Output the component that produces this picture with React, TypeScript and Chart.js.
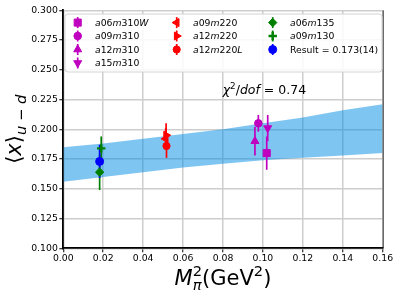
import React, { useEffect, useRef } from 'react';
import { Chart, registerables } from 'chart.js';
import { drawPoint } from 'chart.js/helpers';

Chart.register(...registerables);

// ---- data ----
const xTicksMin = 0;
const xTicksMax = 0.16;
const xTickStep = 0.02;
const yTicksMin = 0.1;
const yTicksMax = 0.3;
const yTickStep = 0.025;

const seriesNames = ['a06m310W', 'a09m310', 'a12m310', 'a15m310', 'a09m220', 'a12m220', 'a12m220L', 'a06m135', 'a09m130', 'Result = 0.173(14)'];
const seriesX = [0.1019, 0.0977, 0.096, 0.1024, 0.0513, 0.0515, 0.0517, 0.0182, 0.019, 0.0182];
const seriesY = [0.18, 0.205, 0.19, 0.201, 0.192, 0.195, 0.186, 0.164, 0.184, 0.173];
const seriesErr = [0.014, 0.007, 0.012, 0.011, 0.009, 0.01, 0.01, 0.015, 0.01, 0.014];

const bandX = [0, 0.02, 0.04, 0.06, 0.08, 0.1, 0.12, 0.14, 0.16];
const bandLo = [0.156, 0.160, 0.164, 0.168, 0.171, 0.174, 0.176, 0.178, 0.180];
const bandHi = [0.185, 0.188, 0.192, 0.196, 0.200, 0.205, 0.210, 0.216, 0.221];

const chiText = '0.74';

// ---- styles ----
const MAG = '#bf00bf';
const RED = '#ff0000';
const GRN = '#008000';
const BLU = '#0000ff';
const seriesColor = [MAG, MAG, MAG, MAG, RED, RED, RED, GRN, GRN, BLU];
const seriesMarker = ['rect', 'circle', 'triangle', 'triangle', 'triangle', 'triangle', 'circle', 'rectRot', 'cross', 'circle'];
const seriesRotation = [0, 0, 0, 180, 270, 90, 0, 0, 0, 0];
const seriesRadius = [5, 3.8, 4.6, 4.6, 4.6, 4.6, 3.6, 4.2, 4.2, 4.0];
const legendCol = [0, 0, 0, 0, 1, 1, 1, 2, 2, 2];
const legendRow = [0, 1, 2, 3, 0, 1, 2, 0, 1, 2];

const FONT = '"DejaVu Sans", sans-serif';

type Part = { t: string; it?: boolean; size: number; dy?: number; noAdv?: boolean };

function partsWidth(ctx: CanvasRenderingContext2D, parts: Part[]) {
  let w = 0;
  for (const p of parts) {
    ctx.font = `${p.it ? 'italic ' : ''}${p.size}px ${FONT}`;
    const m = ctx.measureText(p.t).width;
    if (!p.noAdv) w += m;
  }
  return w;
}

function drawRich(ctx: CanvasRenderingContext2D, parts: Part[], x: number, y: number, align: 'left' | 'center') {
  let cx = align === 'center' ? x - partsWidth(ctx, parts) / 2 : x;
  ctx.textAlign = 'left';
  ctx.textBaseline = 'alphabetic';
  for (const p of parts) {
    ctx.font = `${p.it ? 'italic ' : ''}${p.size}px ${FONT}`;
    ctx.fillText(p.t, cx, y + (p.dy || 0));
    if (!p.noAdv) cx += ctx.measureText(p.t).width;
  }
}

function mathParts(name: string, size: number): Part[] {
  if (name.startsWith('Result')) return [{ t: name, size }];
  const parts: Part[] = [];
  const re = /([A-Za-z]+|[0-9]+)/g;
  let m: RegExpExecArray | null;
  while ((m = re.exec(name))) {
    parts.push({ t: m[0], it: /[A-Za-z]/.test(m[0]), size });
  }
  return parts;
}

const overlayPlugin = {
  id: 'overlay',
  afterDatasetDraw(chart: any, args: any) {
    if (args.index !== seriesNames.length) return;
    const ctx: CanvasRenderingContext2D = chart.ctx;
    const xs = chart.scales.x;
    const ys = chart.scales.y;
    ctx.save();
    for (let i = 0; i < seriesNames.length; i++) {
      const px = xs.getPixelForValue(seriesX[i]);
      ctx.strokeStyle = seriesColor[i];
      ctx.lineWidth = 1.7;
      ctx.beginPath();
      ctx.moveTo(px, ys.getPixelForValue(seriesY[i] - seriesErr[i]));
      ctx.lineTo(px, ys.getPixelForValue(seriesY[i] + seriesErr[i]));
      ctx.stroke();
    }
    ctx.restore();
  },
  afterDraw(chart: any) {
    const ctx: CanvasRenderingContext2D = chart.ctx;
    const area = chart.chartArea;
    ctx.save();
    // right spine
    ctx.strokeStyle = '#333';
    ctx.lineWidth = 1;
    ctx.beginPath();
    ctx.moveTo(area.right + 0.5, area.top);
    ctx.lineTo(area.right + 0.5, area.bottom);
    ctx.stroke();

    // legend box
    const lx = 65, ly = 14, lw = 317, lh = 58, r = 3;
    ctx.fillStyle = 'rgba(255,255,255,0.85)';
    ctx.strokeStyle = '#d4d4d4';
    ctx.lineWidth = 1;
    ctx.beginPath();
    ctx.moveTo(lx + r, ly);
    ctx.lineTo(lx + lw - r, ly);
    ctx.arcTo(lx + lw, ly, lx + lw, ly + r, r);
    ctx.lineTo(lx + lw, ly + lh - r);
    ctx.arcTo(lx + lw, ly + lh, lx + lw - r, ly + lh, r);
    ctx.lineTo(lx + r, ly + lh);
    ctx.arcTo(lx, ly + lh, lx, ly + lh - r, r);
    ctx.lineTo(lx, ly + r);
    ctx.arcTo(lx, ly, lx + r, ly, r);
    ctx.closePath();
    ctx.fill();
    ctx.stroke();

    const colMarkX = [77.7, 176.7, 272.7];
    const colTextX = [95, 193, 290];
    const rowY = [22.6, 36, 49.5, 63];
    for (let i = 0; i < seriesNames.length; i++) {
      const mx = colMarkX[legendCol[i]];
      const my = rowY[legendRow[i]];
      ctx.strokeStyle = seriesColor[i];
      ctx.lineWidth = 1.7;
      ctx.beginPath();
      ctx.moveTo(mx, my - 5.5);
      ctx.lineTo(mx, my + 5.5);
      ctx.stroke();
      ctx.fillStyle = seriesColor[i];
      ctx.strokeStyle = seriesColor[i];
      ctx.lineWidth = seriesMarker[i] === 'cross' ? 2.4 : 1;
      drawPoint(ctx, { pointStyle: seriesMarker[i] as any, rotation: seriesRotation[i], radius: seriesRadius[i], borderWidth: ctx.lineWidth }, mx, my);
      ctx.fillStyle = '#000';
      drawRich(ctx, mathParts(seriesNames[i], 9.3), colTextX[legendCol[i]], my + 3.4, 'left');
    }

    // chi^2 annotation
    ctx.fillStyle = '#000';
    drawRich(ctx, [
      { t: 'χ', it: true, size: 12.5 },
      { t: '2', size: 8.8, dy: -5 },
      { t: '/', size: 12.5 },
      { t: 'dof', it: true, size: 12.5 },
      { t: ' = ' + chiText, size: 12.5 },
    ], 222.7, 94, 'left');

    // x axis title
    const cx = (area.left + area.right) / 2;
    drawRich(ctx, [
      { t: 'M', it: true, size: 21 },
      { t: 'π', it: true, size: 14.7, dy: 5, noAdv: true },
      { t: '2', size: 14.7, dy: -9 },
      { t: '(GeV', size: 21 },
      { t: '2', size: 14.7, dy: -9 },
      { t: ')', size: 21 },
    ], cx, 285, 'center');

    // y axis title
    ctx.translate(21, (area.top + area.bottom) / 2);
    ctx.rotate(-Math.PI / 2);
    drawRich(ctx, [
      { t: '⟨', size: 21 },
      { t: 'x', it: true, size: 21 },
      { t: '⟩', size: 21 },
      { t: 'u', it: true, size: 14.7, dy: 5 },
      { t: ' − ', size: 14.7, dy: 5 },
      { t: 'd', it: true, size: 14.7, dy: 5 },
    ], 0, 0, 'center');
    ctx.restore();
  },
};

export default function App() {
  const ref = useRef<HTMLCanvasElement | null>(null);
  useEffect(() => {
    const canvas = ref.current!;
    const pointSets: any[] = seriesNames.map((name, i) => ({
      type: 'scatter',
      label: name,
      data: [{ x: seriesX[i], y: seriesY[i] }],
      pointStyle: seriesMarker[i],
      rotation: seriesRotation[i],
      pointRadius: seriesRadius[i],
      backgroundColor: seriesColor[i],
      borderColor: seriesColor[i],
      borderWidth: seriesMarker[i] === 'cross' ? 2.4 : 1,
      order: 0,
    }));
    const bandLoSet: any = {
      type: 'line',
      label: 'bandLo',
      data: bandX.map((x, i) => ({ x, y: bandLo[i] })),
      showLine: true,
      borderWidth: 0,
      borderColor: 'rgba(0,0,0,0)',
      pointRadius: 0,
      fill: false,
      order: 1,
    };
    const bandHiSet: any = {
      type: 'line',
      label: 'bandHi',
      data: bandX.map((x, i) => ({ x, y: bandHi[i] })),
      showLine: true,
      borderWidth: 0,
      borderColor: 'rgba(0,0,0,0)',
      backgroundColor: 'rgba(0,140,230,0.5)',
      pointRadius: 0,
      fill: '-1',
      order: 1,
    };
    const chart = new Chart(canvas, {
      type: 'scatter',
      data: { datasets: [...pointSets, bandLoSet, bandHiSet] },
      options: {
        responsive: false,
        animation: false,
        devicePixelRatio: 1,
        layout: { padding: { left: 0, top: 10.3, right: 16.3, bottom: 0 } },
        plugins: { legend: { display: false }, tooltip: { enabled: false } },
        scales: {
          x: {
            type: 'linear',
            min: xTicksMin,
            max: xTicksMax,
            afterFit: (s: any) => { s.height = 50.7; },
            ticks: {
              stepSize: xTickStep,
              callback: (v: any) => Number(v).toFixed(2),
              font: { family: FONT, size: 9.3 },
              color: '#000',
              padding: 1,
              maxRotation: 0,
              autoSkip: false,
            },
            grid: { color: '#cdcdcd', lineWidth: 1.5, tickLength: 4, tickColor: '#000', tickWidth: 1 },
            border: { display: true, color: '#000', width: 1.8 },
          },
          y: {
            type: 'linear',
            min: yTicksMin,
            max: yTicksMax,
            afterFit: (s: any) => { s.width = 63.3; },
            ticks: {
              stepSize: yTickStep,
              callback: (v: any) => Number(v).toFixed(3),
              font: { family: FONT, size: 9.3 },
              color: '#000',
              padding: 1.5,
              autoSkip: false,
            },
            grid: { color: '#cdcdcd', lineWidth: 1.5, tickLength: 4, tickColor: '#000', tickWidth: 1 },
            border: { display: true, color: '#000', width: 1.8 },
          },
        },
      } as any,
      plugins: [overlayPlugin],
    });
    return () => chart.destroy();
  }, []);
  return (
    <div style={{ position: 'absolute', left: 0, top: 0, width: 399, height: 299, background: '#fff' }}>
      <canvas ref={ref} width={399} height={299} style={{ display: 'block' }} />
    </div>
  );
}
